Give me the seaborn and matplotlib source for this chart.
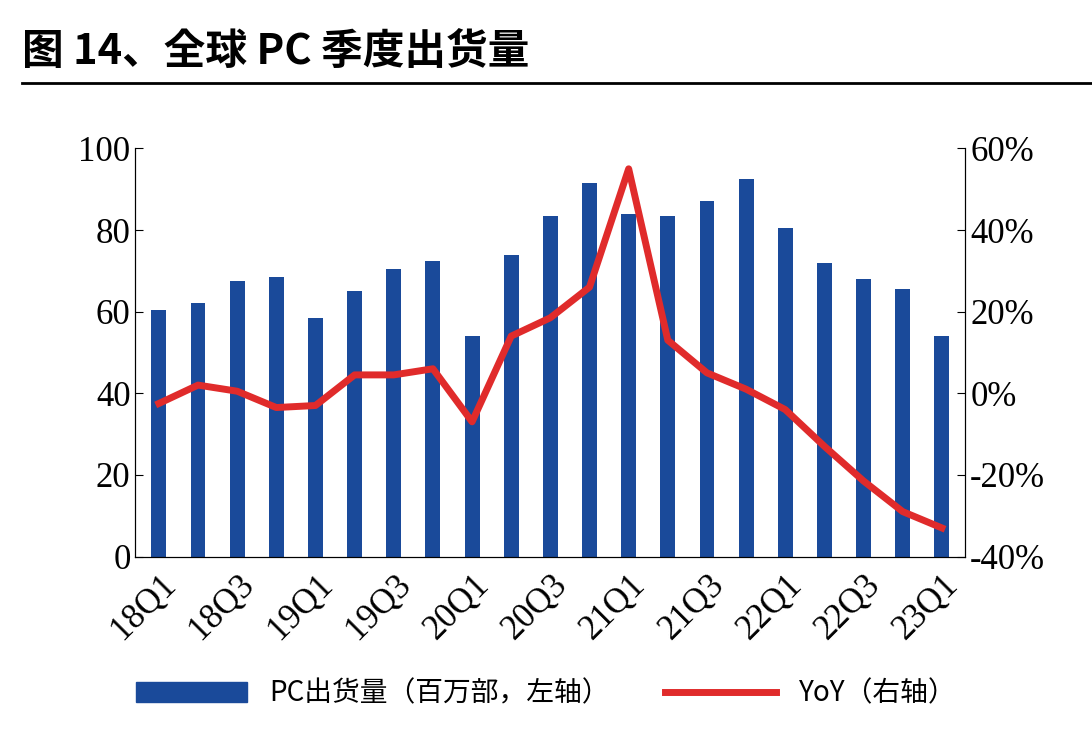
import matplotlib
matplotlib.use("Agg")
import matplotlib.pyplot as plt
import seaborn as sns
import pandas as pd
from matplotlib.lines import Line2D
from matplotlib.patches import Patch
from matplotlib import font_manager as fm

quarters = ["18Q1","18Q2","18Q3","18Q4","19Q1","19Q2","19Q3","19Q4","20Q1","20Q2","20Q3","20Q4",
            "21Q1","21Q2","21Q3","21Q4","22Q1","22Q2","22Q3","22Q4","23Q1"]
shipments = [60.5,62,67.5,68.5,58.5,65,70.5,72.5,54,74,83.5,91.5,84,83.5,87,92.5,80.5,72,68,65.5,54]
yoy = [-2.5,2,0.5,-3.5,-3,4.5,4.5,6,-7,14,18.5,26,55,13,5,1,-4,-13,-21.5,-29,-33]

names = {f.name for f in fm.fontManager.ttflist}
cjk = [n for n in ["Noto Sans CJK SC","Noto Sans CJK JP","Noto Serif CJK SC","Noto Sans CJK TC","Noto Sans CJK KR"] if n in names]
if not cjk:
    import glob
    for p in glob.glob("/usr/share/fonts/**/*CJK*", recursive=True):
        try:
            fm.fontManager.addfont(p)
        except Exception:
            pass
    names = {f.name for f in fm.fontManager.ttflist}
    cjk = [n for n in names if "CJK" in n]
cjkfam = cjk + ["DejaVu Sans"]

df = pd.DataFrame({"q": quarters, "s": shipments, "y": yoy})
df["x"] = range(len(df))

fig = plt.figure(figsize=(10.92, 7.42), dpi=100)
ax = fig.add_axes([0.124, 0.25, 0.76, 0.55])
sns.barplot(data=df, x="x", y="s", color="#1a4a9a", width=0.38, ax=ax, saturation=1)
ax2 = ax.twinx()
sns.lineplot(data=df, x="x", y="y", color="#e02b2b", linewidth=5, ax=ax2)

serif = "Liberation Serif"
ax.set_ylim(0, 100); ax2.set_ylim(-40, 60)
ax.set_xlim(-0.6, 20.6)
ax.set_yticks(range(0, 101, 20))
ax2.set_yticks(range(-40, 61, 20))
ax2.set_yticklabels([f"{v}%" for v in range(-40, 61, 20)])
ax.set_xticks(range(0, 21, 2))
ax.set_xticklabels(quarters[::2], rotation=45, ha="right", rotation_mode="anchor")
for a in (ax, ax2):
    a.set_xlabel(""); a.set_ylabel("")
    for lab in a.get_xticklabels() + a.get_yticklabels():
        lab.set_fontfamily(serif); lab.set_fontsize(25)
    a.spines["top"].set_visible(False)
    a.tick_params(direction="in", length=6)
ax.tick_params(axis="x", length=0, pad=8)

fig.text(0.02, 0.93, "图 14、全球 PC 季度出货量", fontsize=30, fontweight="bold",
         fontfamily=cjkfam, va="center")
fig.add_artist(Line2D([0.02, 1.0], [0.888, 0.888], color="black", lw=2))

handles = [Patch(color="#1a4a9a"), Line2D([0], [0], color="#e02b2b", lw=5)]
fig.legend(handles, ["PC出货量（百万部，左轴）", "YoY（右轴）"], loc="center",
           bbox_to_anchor=(0.5, 0.065), ncol=2, frameon=False, handlelength=4,
           prop={"family": cjkfam, "size": 20}, columnspacing=2)
fig.savefig("out.png", dpi=100)
